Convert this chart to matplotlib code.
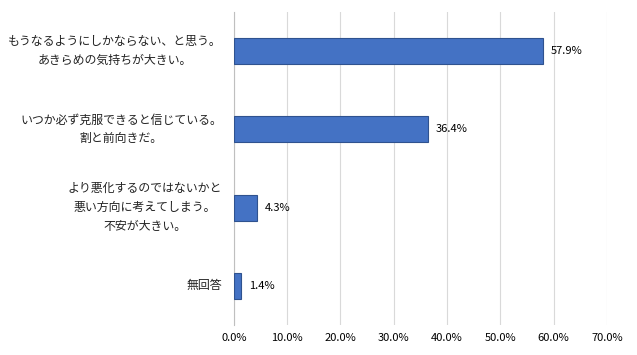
import matplotlib
matplotlib.use("Agg")
import matplotlib.pyplot as plt
from matplotlib.ticker import FuncFormatter

plt.rcParams['font.family'] = ['Noto Sans CJK JP', 'DejaVu Sans']

categories = [
    "もうなるようにしかならない、と思う。\nあきらめの気持ちが大きい。",
    "いつか必ず克服できると信じている。\n割と前向きだ。",
    "より悪化するのではないかと\n悪い方向に考えてしまう。\n不安が大きい。",
    "無回答",
]
values = [57.9, 36.4, 4.3, 1.4]
xticks = [0, 10, 20, 30, 40, 50, 60, 70]

fig = plt.figure(figsize=(6.37, 3.55), dpi=100)
ax = fig.add_axes([0.367, 0.085, 0.586, 0.881])

ypos = list(range(len(categories)))
ax.barh(ypos, values, height=0.333, color='#4472C4', edgecolor='#2F528F', linewidth=0.8, zorder=3)
ax.set_ylim(len(categories) - 0.5, -0.5)
ax.set_xlim(0, 70)
ax.set_xticks(xticks)
ax.xaxis.set_major_formatter(FuncFormatter(lambda v, p: f"{v:.1f}%"))
ax.set_yticks([])
ax.grid(axis='x', color='#D9D9D9', linewidth=0.8, zorder=0)
for s in ['top', 'right', 'bottom']:
    ax.spines[s].set_visible(False)
ax.spines['left'].set_color('#BFBFBF')
ax.tick_params(axis='x', length=0, pad=6, labelsize=8, colors='#000000')

for y, v in zip(ypos, values):
    ax.text(v + 1.5, y, f"{v}%", va='center', ha='left', fontsize=8)

for y, c in zip(ypos, categories):
    ax.text(-2.2, y, c, va='center', ha='right', multialignment='center',
            fontsize=8.6, linespacing=1.6, color='#222222')

fig.savefig("out.png", dpi=100)
